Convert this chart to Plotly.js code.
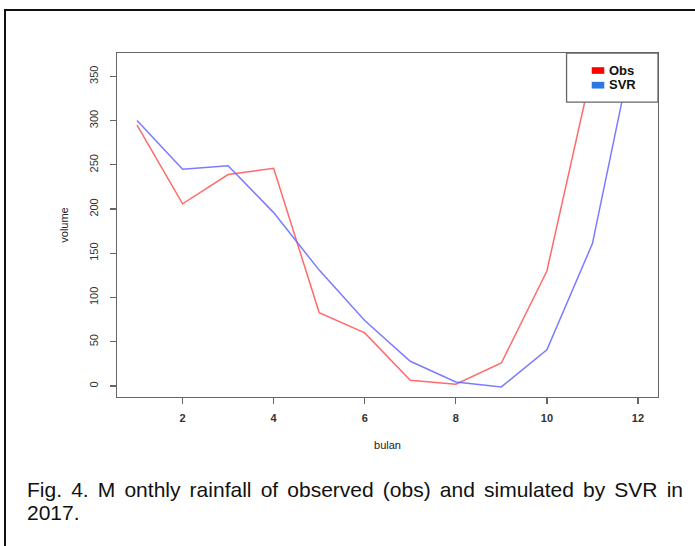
<!DOCTYPE html>
<html>
<head>
<meta charset="utf-8">
<script src="https://cdn.plot.ly/plotly-3.0.1.min.js"></script>
<style>
  html, body { margin: 0; padding: 0; background: #ffffff; overflow: hidden; }
  #wrap { position: relative; width: 695px; height: 546px; }
  #chart { position: absolute; left: 0; top: 0; width: 695px; height: 546px; }
  #frame { position: absolute; left: 4px; top: 9px; width: 800px; height: 800px;
           border: 2px solid #111; pointer-events: none; }
  #caption { position: absolute; left: 27px; top: 478px; width: 656px;
             font-family: "Liberation Sans", Arial, sans-serif; font-size: 21px;
             line-height: 23.4px; color: #111; text-align: justify; }
</style>
</head>
<body>
<div id="wrap">
  <div id="chart"></div>
  <div id="frame"></div>
  <div id="caption">Fig. 4. M onthly rainfall of observed (obs) and simulated by SVR in 2017.</div>
</div>
<script>
// ---- data ----
const months = [1, 2, 3, 4, 5, 6, 7, 8, 9, 10, 11, 12];
const obs    = [295, 206, 239, 246, 83, 60, 6.5, 2, 26, 130, 360, 362];
const svr    = [300, 245, 249, 196, 131, 74, 28, 4.5, -1, 41, 161, 409];
const xTicks = [2, 4, 6, 8, 10, 12];
const yTicks = [0, 50, 100, 150, 200, 250, 300, 350];
const seriesNames = ["Obs", "SVR"];

const fam = "Liberation Sans, Arial, sans-serif";

const traces = [
  { x: months, y: obs, type: "scatter", mode: "lines", name: seriesNames[0],
    line: { color: "rgba(255,80,80,0.85)", width: 1.5 }, showlegend: false, hoverinfo: "skip" },
  { x: months, y: svr, type: "scatter", mode: "lines", name: seriesNames[1],
    line: { color: "rgba(100,100,255,0.85)", width: 1.5 }, showlegend: false, hoverinfo: "skip" }
];

const layout = {
  width: 695, height: 546,
  margin: { l: 117, r: 37, t: 53, b: 149, pad: 0 },
  paper_bgcolor: "rgba(0,0,0,0)",
  plot_bgcolor: "#ffffff",
  showlegend: false,
  xaxis: {
    range: [0.56, 12.44], tickvals: xTicks, ticktext: xTicks.map(String),
    showgrid: false, zeroline: false,
    showline: true, mirror: true, linecolor: "#666", linewidth: 1.3,
    ticks: "outside", ticklen: 6, tickwidth: 1.3, tickcolor: "#666",
    tickfont: { family: fam, size: 11, color: "#333", weight: "bold" }, ticklabelstandoff: 4,
    title: { text: "bulan", font: { family: fam, size: 11, color: "#222" }, standoff: 18 }
  },
  yaxis: {
    range: [-12.4, 376.4], tickvals: yTicks, ticktext: yTicks.map(String),
    showgrid: false, zeroline: false,
    showline: true, mirror: true, linecolor: "#666", linewidth: 1.3,
    ticks: "outside", ticklen: 6, tickwidth: 1.3, tickcolor: "#666",
    tickangle: -90, tickfont: { family: fam, size: 11, color: "#333" }, ticklabelstandoff: 7,
    title: { text: "volume", font: { family: fam, size: 11, color: "#222" }, standoff: 17 }
  },
  shapes: [
    { type: "rect", xref: "paper", yref: "paper", x0: 0.831, x1: 1.0, y0: 0.857, y1: 1.0,
      fillcolor: "#ffffff", line: { color: "#666", width: 1.3 }, layer: "above" },
    { type: "rect", xref: "paper", yref: "paper", x0: 0.8775, x1: 0.9007, y0: 0.9394, y1: 0.9587,
      fillcolor: "#ff0000", line: { width: 0 }, layer: "above" },
    { type: "rect", xref: "paper", yref: "paper", x0: 0.8775, x1: 0.9007, y0: 0.8967, y1: 0.9162,
      fillcolor: "#2a78e0", line: { width: 0 }, layer: "above" }
  ],
  annotations: [
    { xref: "paper", yref: "paper", x: 0.906, y: 0.949, xanchor: "left", yanchor: "middle",
      text: "<b>" + seriesNames[0] + "</b>", showarrow: false,
      font: { family: fam, size: 13, color: "#111" } },
    { xref: "paper", yref: "paper", x: 0.906, y: 0.907, xanchor: "left", yanchor: "middle",
      text: "<b>" + seriesNames[1] + "</b>", showarrow: false,
      font: { family: fam, size: 13, color: "#111" } }
  ]
};

Plotly.newPlot("chart", traces, layout, { staticPlot: true, displayModeBar: false });
</script>
</body>
</html>
